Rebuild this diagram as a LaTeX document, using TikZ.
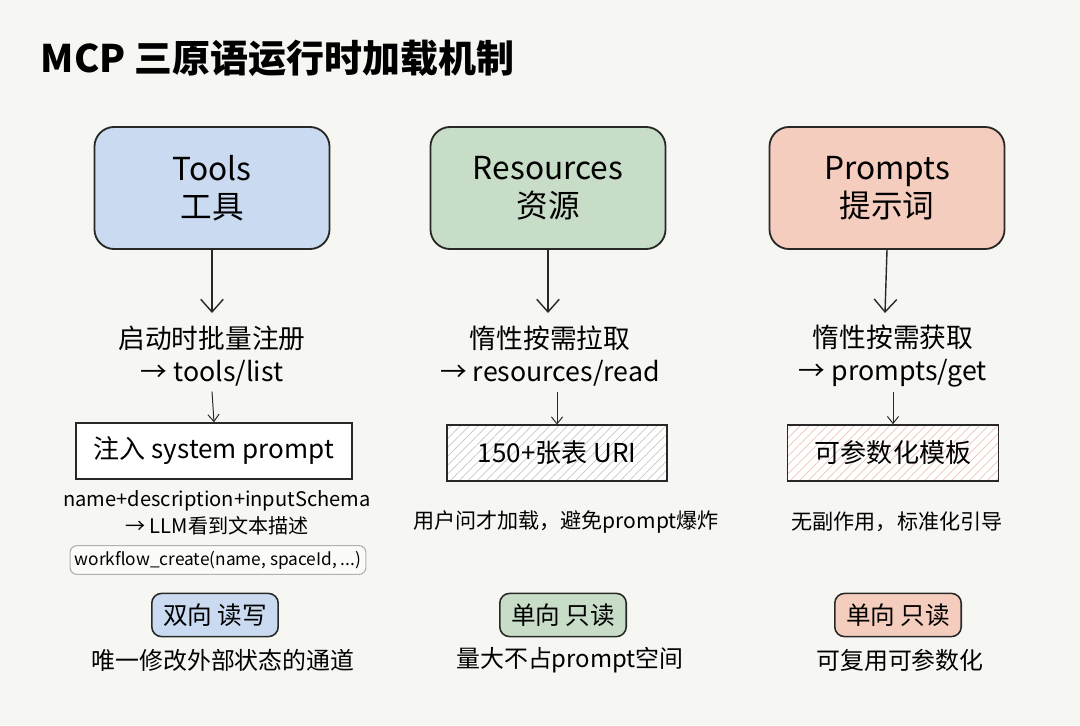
\documentclass[tikz,border=0pt]{standalone}
\usepackage{fontspec}
\setmainfont{Noto Sans CJK SC}
\usetikzlibrary{arrows.meta,patterns.meta}
\definecolor{bg}{RGB}{246,246,243}
\definecolor{ink}{RGB}{40,40,40}
\definecolor{blueF}{RGB}{202,219,241}
\definecolor{greenF}{RGB}{200,221,199}
\definecolor{peachF}{RGB}{245,205,190}
\definecolor{hatchG}{RGB}{200,200,195}
\definecolor{hatchP}{RGB}{238,196,180}
\begin{document}
\begin{tikzpicture}[x=0.025cm,y=-0.025cm,
  bigbox/.style={draw=ink,line width=1.3pt,rounded corners=14pt,minimum width=5.875cm,minimum height=3.05cm,align=center,font=\fontsize{22.5}{27}\selectfont,text=black},
  midtext/.style={align=center,font=\fontsize{19}{24}\selectfont,text=black},
  flatbox/.style={draw=ink,line width=1.1pt,minimum height=1.4cm,font=\fontsize{18.5}{22}\selectfont,text=black,inner xsep=10pt},
  hatched/.style={preaction={fill=white},pattern={Lines[angle=45,distance=4.5pt,line width=0.5pt]}},
  note/.style={align=center,font=\fontsize{15}{19.5}\selectfont,text=black},
  badge/.style={draw=ink,line width=1.1pt,rounded corners=7pt,minimum height=1.08cm,font=\fontsize{17.5}{21}\selectfont,text=black,inner xsep=8pt},
  bottom/.style={font=\fontsize{17}{20}\selectfont,text=black},
  bigarrow/.style={draw=ink,line width=1pt,-{Straight Barb[length=9pt,width=16pt]}},
  smallarrow/.style={draw=ink,line width=0.7pt,-{Straight Barb[length=5pt,width=8pt]}}
]
\fill[bg] (0,0) rectangle (1080,725);
\node[anchor=west,font=\fontsize{27}{32}\selectfont\bfseries,text=black] (title) at (36,58) {MCP 三原语运行时加载机制};

% top boxes
\node[bigbox,fill=blueF] (tools) at (212,188) {Tools\\工具};
\node[bigbox,fill=greenF] (res) at (548,188) {Resources\\资源};
\node[bigbox,fill=peachF] (pro) at (887,188) {Prompts\\提示词};

% mid texts
\node[midtext] (t1) at (212,356) {启动时批量注册\\→ tools/list};
\node[midtext] (t2) at (550,356) {惰性按需拉取\\→ resources/read};
\node[midtext] (t3) at (893,356) {惰性按需获取\\→ prompts/get};

\draw[bigarrow] (tools.south) -- (212,313);
\draw[bigarrow] (res.south) -- (548,313);
\draw[bigarrow] (pro.south) -- (885,313);

% flat boxes
\node[flatbox,fill=white,minimum width=6.9cm] (f1) at (214,451) {注入 system prompt};
\node[flatbox,hatched,pattern color=hatchG,minimum width=5.5cm] (f2) at (557,453) {150+张表 URI};
\node[flatbox,hatched,pattern color=hatchP,minimum width=5.28cm] (f3) at (893,453) {可参数化模板};

\draw[smallarrow] (t1.south) -- (f1.north);
\draw[smallarrow] (t2.south -| f2.north) -- (f2.north);
\draw[smallarrow] (t3.south) -- (f3.north);

% notes
\node[note,font=\fontsize{14.3}{19.5}\selectfont] (n1) at (217,513) {name+description+inputSchema\\→ LLM看到文本描述};
\node[draw=gray!60,line width=0.8pt,rounded corners=5pt,fill=white!60!bg,minimum width=7.38cm,minimum height=0.72cm,font=\fontsize{12.3}{14}\selectfont,text=black] (code) at (218,560) {workflow\_create(name, spaceId, ...)};
\node[note] (n2) at (566,522) {用户问才加载，避免prompt爆炸};
\node[note] (n3) at (897,522) {无副作用，标准化引导};

% badges
\node[badge,fill=blueF] (b1) at (215,615) {双向 读写};
\node[badge,fill=greenF] (b2) at (563,615) {单向 只读};
\node[badge,fill=peachF] (b3) at (898,615) {单向 只读};

\node[bottom] (l1) at (223,660) {唯一修改外部状态的通道};
\node[bottom] (l2) at (570,660) {量大不占prompt空间};
\node[bottom] (l3) at (900,660) {可复用可参数化};
\end{tikzpicture}
\end{document}
